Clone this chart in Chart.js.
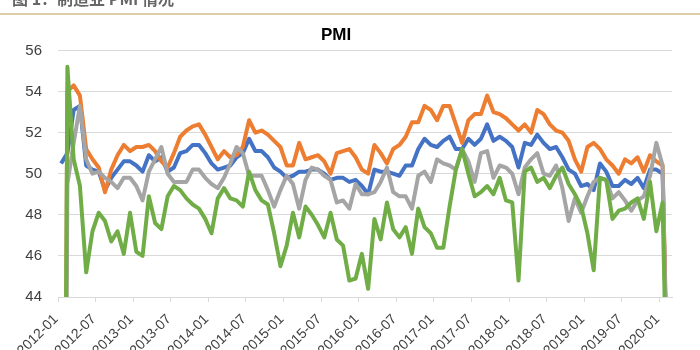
<!DOCTYPE html>
<html>
<head>
<meta charset="utf-8">
<script src="https://cdn.jsdelivr.net/npm/chart.js@4/dist/chart.umd.min.js"></script>
<style>
  html, body { margin: 0; padding: 0; background: #fff; }
  #wrap { position: relative; width: 700px; height: 350px; overflow: hidden; }
  #caption { position: absolute; left: 12px; top: -14px; font: bold 16px "Noto Sans CJK SC", sans-serif; color: #666; white-space: nowrap; }
  #rule { position: absolute; left: 0; right: 0; top: 13px; height: 2px; background: #ddd0a8; }
  #chart { position: absolute; left: 0; top: 0; }
</style>
</head>
<body>
<div id="wrap">
  <canvas id="chart" width="700" height="350"></canvas>
  <div id="caption">图 1：制造业 PMI 情况</div>
  <div id="rule"></div>
</div>
<script>
// months 2012-01 .. 2020-02
const months = [];
for (let y = 2012; y <= 2020; y++) {
  for (let m = 1; m <= 12; m++) {
    if (y === 2020 && m > 2) break;
    months.push(`${y}-${String(m).padStart(2, "0")}`);
  }
}

const yTicks = [44, 46, 48, 50, 52, 54, 56];

// overall manufacturing PMI
const pmiTotal = [
  50.5, 51.0, 53.1, 53.3, 50.4, 50.2, 50.1, 49.2, 49.8, 50.2, 50.6, 50.6,
  50.4, 50.1, 50.9, 50.6, 50.8, 50.1, 50.3, 51.0, 51.1, 51.4, 51.4, 51.0,
  50.5, 50.2, 50.3, 50.4, 50.8, 51.0, 51.7, 51.1, 51.1, 50.8, 50.3, 50.1,
  49.8, 49.9, 50.1, 50.1, 50.2, 50.2, 50.0, 49.7, 49.8, 49.8, 49.6, 49.7,
  49.4, 49.0, 50.2, 50.1, 50.1, 50.0, 49.9, 50.4, 50.4, 51.2, 51.7, 51.4,
  51.3, 51.6, 51.8, 51.2, 51.2, 51.7, 51.4, 51.7, 52.4, 51.6, 51.8, 51.6,
  51.3, 50.3, 51.5, 51.4, 51.9, 51.5, 51.2, 51.3, 50.8, 50.2, 50.0, 49.4,
  49.5, 49.2, 50.5, 50.1, 49.4, 49.4, 49.7, 49.5, 49.8, 49.3, 50.2, 50.2,
  50.0, 35.7
];

// large enterprises (first month empty -> 0, as in the sheet)
const pmiLarge = [
  0, 54.0, 54.3, 53.8, 51.2, 50.7, 50.3, 49.1, 50.2, 50.9, 51.4, 51.1,
  51.3, 51.3, 51.4, 51.1, 50.6, 50.3, 51.0, 51.8, 52.1, 52.3, 52.4, 51.9,
  51.3, 50.7, 51.1, 50.8, 50.9, 51.3, 52.6, 52.0, 52.1, 51.9, 51.6, 51.3,
  50.4, 50.4, 51.5, 50.7, 50.8, 50.9, 50.6, 50.0, 51.0, 51.1, 51.2, 50.8,
  50.2, 50.0, 51.4, 51.0, 50.5, 51.2, 51.4, 51.8, 52.5, 52.5, 53.3, 53.1,
  52.6, 53.3, 53.3, 52.4, 51.5, 52.6, 52.9, 52.9, 53.8, 53.0, 52.9, 52.7,
  52.4, 52.1, 52.4, 52.0, 53.1, 52.9, 52.4, 52.1, 52.0, 51.6, 50.7, 50.1,
  51.3, 51.5, 51.2, 50.7, 50.4, 50.0, 50.7, 50.5, 50.8, 50.1, 50.9, 50.6,
  50.4, 36.8
];

// medium enterprises
const pmiMedium = [
  0, 49.5, 51.5, 53.3, 50.7, 50.0, 50.1, 49.8, 49.6, 49.3, 49.8, 49.8,
  49.4, 48.7, 50.1, 50.7, 51.3, 50.0, 49.6, 49.6, 49.6, 50.2, 50.2, 49.8,
  49.5, 49.3, 49.8, 50.5, 51.3, 51.0, 49.9, 49.9, 49.9, 49.2, 48.4, 49.2,
  49.9, 49.5, 48.3, 49.7, 50.3, 50.2, 49.9, 49.7, 48.6, 48.7, 48.3, 49.5,
  49.0, 49.0, 49.1, 49.6, 50.3, 49.1, 48.9, 48.9, 48.3, 49.9, 50.1, 49.6,
  50.7, 50.5, 50.4, 50.2, 51.2, 50.6, 49.6, 51.0, 51.1, 49.8, 50.4, 50.3,
  50.0, 49.0, 50.3, 50.7, 51.0, 50.0, 49.9, 50.4, 49.3, 47.7, 48.8, 48.1,
  48.9, 49.6, 49.8, 49.7, 48.8, 49.1, 48.7, 48.2, 48.7, 48.9, 49.9, 51.5,
  50.4, 35.5
];

// small enterprises
const pmiSmall = [
  0, 55.2, 50.7, 49.4, 45.2, 47.2, 48.1, 47.7, 46.7, 47.2, 46.1, 48.1,
  46.2, 46.0, 48.9, 47.6, 47.3, 48.9, 49.4, 49.2, 48.8, 48.5, 48.3, 47.8,
  47.1, 48.8, 49.3, 48.8, 48.7, 48.4, 50.1, 49.2, 48.7, 48.5, 47.1, 45.5,
  46.5, 48.1, 46.9, 48.4, 48.0, 47.5, 46.9, 48.1, 46.8, 46.5, 44.8, 44.9,
  46.1, 44.4, 47.8, 46.8, 48.6, 47.3, 46.9, 47.4, 46.1, 48.3, 47.4, 47.1,
  46.4, 46.4, 48.4, 50.2, 51.2, 50.0, 48.9, 49.1, 49.4, 49.0, 49.8, 48.7,
  48.6, 44.8, 50.1, 50.3, 49.6, 49.8, 49.3, 49.9, 50.3, 49.5, 49.0, 48.4,
  47.1, 45.3, 49.8, 49.7, 47.8, 48.2, 48.3, 48.6, 48.8, 47.8, 49.6, 47.2,
  48.6, 34.1
];

const textColor = "#404040";
const gridColor = "#d9d9d9";

function line(data, color, order) {
  return {
    data,
    borderColor: color,
    backgroundColor: color,
    borderWidth: 4,
    pointRadius: 0,
    tension: 0,
    borderJoinStyle: "round",
    clip: 0,
    order,
  };
}

new Chart(document.getElementById("chart"), {
  type: "line",
  data: {
    labels: months,
    datasets: [
      line(pmiTotal, "#4472c4", 4),
      line(pmiLarge, "#ed7d31", 3),
      line(pmiMedium, "#a5a5a5", 2),
      line(pmiSmall, "#70ad47", 1),
    ],
  },
  options: {
    responsive: false,
    animation: false,
    layout: { padding: { left: 0, right: 28, top: 0, bottom: 0 } },
    plugins: {
      legend: { display: false },
      tooltip: { enabled: false },
      title: {
        display: true,
        text: "PMI",
        color: "#000",
        font: { family: "Liberation Sans", size: 17, weight: "bold" },
        padding: { top: 25, bottom: 5 },
      },
    },
    scales: {
      x: {
        type: "category",
        offset: true,
        afterFit: (scale) => { scale.height = 53; },
        border: { display: true, color: gridColor, width: 1 },
        grid: {
          offset: true,
          drawOnChartArea: false,
          drawTicks: true,
          tickLength: 5,
          color: (ctx) => (ctx.index % 6 === 0 ? gridColor : "rgba(0,0,0,0)"),
        },
        ticks: {
          autoSkip: false,
          maxRotation: 45,
          minRotation: 45,
          labelOffset: -5,
          padding: 9,
          color: textColor,
          font: { family: "Liberation Sans", size: 14 },
          callback: function (value, index) {
            return index % 6 === 0 ? this.getLabelForValue(value) : "";
          },
        },
      },
      y: {
        min: 44,
        max: 56,
        afterFit: (scale) => { scale.width = 58; },
        afterBuildTicks: (scale) => { scale.ticks = yTicks.map((v) => ({ value: v })); },
        border: { display: false },
        grid: { color: gridColor, lineWidth: 1, drawTicks: false },
        ticks: {
          padding: 16,
          color: textColor,
          font: { family: "Liberation Sans", size: 15 },
        },
      },
    },
  },
});
</script>
</body>
</html>
